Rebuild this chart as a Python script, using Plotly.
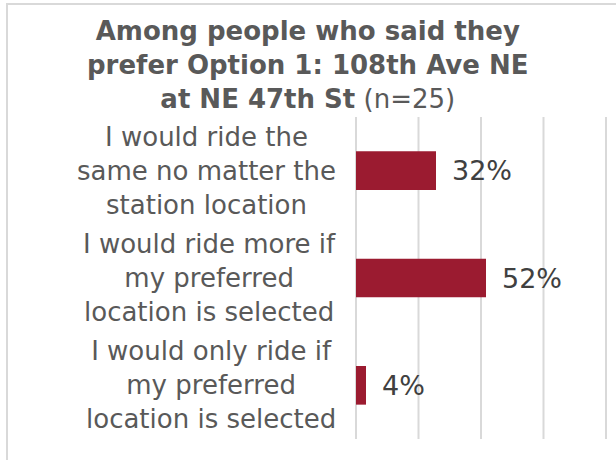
import plotly.graph_objects as go

categories = [
    "I would ride the<br>same no matter the<br>station location",
    "I would ride more if<br>my preferred<br>location is selected",
    "I would only ride if<br>my preferred<br>location is selected",
]
values = [32, 52, 4]
value_labels = ["32%", "52%", "4%"]
tick_vals = [0, 25, 50, 75, 100]
title_text = "<b>Among people who said they<br>prefer Option 1: 108th Ave NE<br>at NE 47th St</b> (n=25)"

W, H = 616, 460
L, R, T, B = 355, 9, 117, 21
pw, ph = W - L - R, H - T - B

fig = go.Figure()

# vertical gridlines (drawn below the bars)
for tv in tick_vals:
    fig.add_shape(type="line", xref="x", yref="paper", x0=tv, x1=tv, y0=0, y1=1,
                  line=dict(color="#d9d9d9", width=2), layer="below")

fig.add_trace(go.Bar(
    x=values, y=categories, orientation="h",
    marker=dict(color="#9B1B30", line=dict(width=0)),
    width=0.36, hoverinfo="skip",
))

for c, v, t in zip(categories, values, value_labels):
    fig.add_annotation(x=v, y=c, xref="x", yref="y", text=t, showarrow=False,
                       xanchor="left", xshift=14,
                       font=dict(family="DejaVu Sans", size=27, color="#404040"))
    fig.add_annotation(x=0, y=c, xref="paper", yref="y", text=c, showarrow=False,
                       xanchor="right", xshift=-17, align="center",
                       font=dict(family="DejaVu Sans", size=26, color="#595959"))

# title
fig.add_annotation(x=(W / 2 - L) / pw, y=1 + (T - 14) / ph, xref="paper", yref="paper",
                   text=title_text, showarrow=False, xanchor="center", yanchor="top",
                   align="center",
                   font=dict(family="DejaVu Sans", size=26, color="#595959"))

# chart border
fig.add_shape(type="rect", xref="paper", yref="paper",
              x0=(7 - L) / pw, x1=(W + 20 - L) / pw,
              y0=-(B + 20) / ph, y1=1 + (T - 4) / ph,
              line=dict(color="#d9d9d9", width=2), layer="below")

fig.update_layout(
    width=W, height=H,
    margin=dict(l=L, r=R, t=T, b=B),
    paper_bgcolor="white", plot_bgcolor="white",
    showlegend=False,
    xaxis=dict(range=[-0.4, 100.4], tickvals=tick_vals, showticklabels=False,
               showgrid=False, zeroline=False, showline=False, fixedrange=True),
    yaxis=dict(autorange="reversed", showticklabels=False, showgrid=False,
               zeroline=False, showline=False, fixedrange=True),
)

fig.write_html("out.html", config={"displayModeBar": False},
               post_script="document.body.style.margin='0';document.body.style.overflow='hidden';")
